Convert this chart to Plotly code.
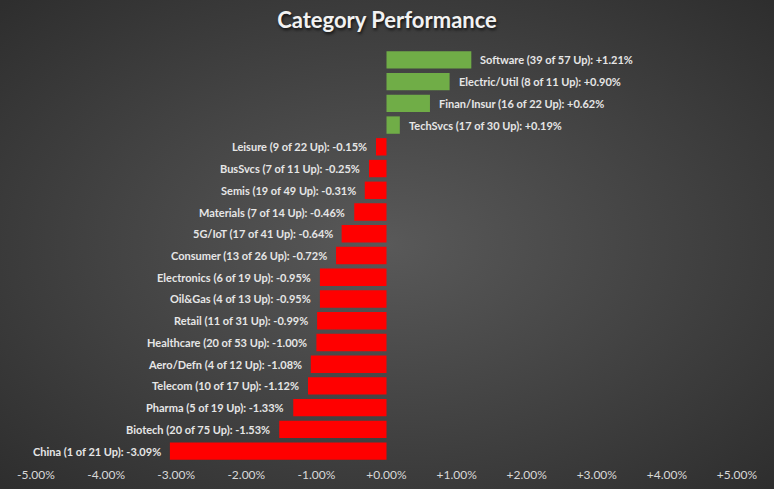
import plotly.graph_objects as go
import urllib.parse

categories = ["Software", "Electric/Util", "Finan/Insur", "TechSvcs", "Leisure", "BusSvcs",
              "Semis", "Materials", "5G/IoT", "Consumer", "Electronics", "Oil&Gas", "Retail",
              "Healthcare", "Aero/Defn", "Telecom", "Pharma", "Biotech", "China"]
up_counts = [39, 8, 16, 17, 9, 7, 19, 7, 17, 13, 6, 4, 11, 20, 4, 10, 5, 20, 1]
totals = [57, 11, 22, 30, 22, 11, 49, 14, 41, 26, 19, 13, 31, 53, 12, 17, 19, 75, 21]
values = [1.21, 0.90, 0.62, 0.19, -0.15, -0.25, -0.31, -0.46, -0.64, -0.72, -0.95, -0.95,
          -0.99, -1.00, -1.08, -1.12, -1.33, -1.53, -3.09]
tick_vals = [-5, -4, -3, -2, -1, 0, 1, 2, 3, 4, 5]
tick_text = ["-5.00%", "-4.00%", "-3.00%", "-2.00%", "-1.00%", "+0.00%",
             "+1.00%", "+2.00%", "+3.00%", "+4.00%", "+5.00%"]

labels = [f"{c} ({u} of {t} Up): {v:+.2f}%" for c, u, t, v in zip(categories, up_counts, totals, values)]
colors = ["#70AD47" if v >= 0 else "#FF0000" for v in values]

W, H = 774, 489
L, R, T, B = 36, 37, 49, 27

svg = (f'<svg xmlns="http://www.w3.org/2000/svg" width="{W}" height="{H}" viewBox="0 0 {W} {H}" preserveAspectRatio="none">'
       '<defs><radialGradient id="g" cx="50%" cy="50%" r="70%">'
       '<stop offset="0%" stop-color="#595959"/><stop offset="100%" stop-color="#2e2e2e"/>'
       '</radialGradient></defs>'
       f'<rect width="{W}" height="{H}" fill="url(#g)"/></svg>')
bg_src = "data:image/svg+xml;charset=utf-8," + urllib.parse.quote(svg)

pw, ph = W - L - R, H - T - B

fig = go.Figure()
fig.add_trace(go.Bar(
    x=values, y=categories, orientation="h",
    marker=dict(color=colors, line=dict(width=0)),
    hoverinfo="skip",
))

annotations = []
for c, v, lab in zip(categories, values, labels):
    annotations.append(dict(
        x=v, y=c, xref="x", yref="y", text=lab, showarrow=False,
        xanchor="left" if v >= 0 else "right",
        xshift=7 if v >= 0 else -7,
        font=dict(family="Lato", size=11, color="#E6E6E6", weight="bold"),
    ))

fig.update_layout(
    width=W, height=H,
    margin=dict(l=L, r=R, t=T, b=B),
    paper_bgcolor="#404040", plot_bgcolor="rgba(0,0,0,0)",
    bargap=0.2,
    showlegend=False,
    annotations=annotations,
    title=dict(text="<b>Category Performance</b>", x=0.5, xanchor="center", y=0.958, yanchor="middle",
               font=dict(family="Lato", size=22, color="#F2F2F2",
                         shadow="1px 2px 3px rgba(0,0,0,0.7)")),
    xaxis=dict(range=[-5, 5], tickvals=tick_vals, ticktext=tick_text, showgrid=False,
               zeroline=False, showline=False, ticks="", ticklabelstandoff=4, automargin=False,
               tickfont=dict(family="Lato", size=12, color="#D9D9D9")),
    yaxis=dict(autorange="reversed", showticklabels=False, showgrid=False, zeroline=False,
               showline=False, ticks="", automargin=False),
    images=[dict(source=bg_src, xref="paper", yref="paper",
                 x=-L / pw, y=1 + T / ph, sizex=W / pw, sizey=H / ph,
                 sizing="stretch", layer="below", xanchor="left", yanchor="top")],
)

fig.write_html("out.html", config={"displayModeBar": False},
               post_script="document.body.style.margin='0';document.body.style.overflow='hidden';")
